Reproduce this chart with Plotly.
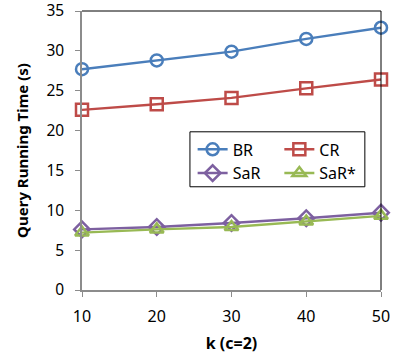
import plotly.graph_objects as go

# data
k_values = [10, 20, 30, 40, 50]
br_times = [27.7, 28.8, 29.9, 31.5, 32.9]
cr_times = [22.6, 23.3, 24.1, 25.3, 26.4]
sar_times = [7.6, 7.9, 8.4, 9.0, 9.7]
sar_star_times = [7.2, 7.6, 7.9, 8.6, 9.3]

font_name = "Noto Sans"

series = [
    ("BR", br_times, "#4a7ebb", "circle-open", "legend"),
    ("CR", cr_times, "#be4b48", "square-open", "legend2"),
    ("SaR", sar_times, "#7d60a0", "diamond-open", "legend"),
    ("SaR*", sar_star_times, "#98b954", "triangle-up-open", "legend2"),
]

fig = go.Figure()
for name, vals, color, symbol, leg in series:
    fig.add_trace(go.Scatter(
        x=k_values, y=vals, name=name, mode="lines+markers",
        line=dict(color=color, width=2.4),
        marker=dict(symbol=symbol, size=12, color=color, line=dict(width=2.5, color=color)),
        legend=leg, cliponaxis=False,
    ))

leg_style = dict(bgcolor="rgba(0,0,0,0)", borderwidth=0,
                 font=dict(family=font_name, size=16, color="black"),
                 itemwidth=30, tracegroupgap=0, yanchor="top", xanchor="left")

fig.update_layout(
    width=399, height=363,
    margin=dict(l=82, r=18, t=11, b=73, autoexpand=False),
    paper_bgcolor="white", plot_bgcolor="white",
    font=dict(family=font_name, size=16, color="black"),
    showlegend=True,
    legend=dict(x=0.37, y=0.565, **leg_style),
    legend2=dict(x=0.66, y=0.565, **leg_style),
    xaxis=dict(
        range=[10, 50], tickvals=k_values, showgrid=False, zeroline=False,
        showline=True, linecolor="#8c8c8c", linewidth=1.5, mirror=False,
        ticks="outside", ticklen=5, tickcolor="#8c8c8c", automargin=False,
        ticklabeloverflow="allow", ticklabelstandoff=6,
        title=dict(text="<b>k (c=2)</b>", font=dict(size=16), standoff=12),
    ),
    yaxis=dict(
        range=[0, 35], dtick=5, showgrid=False, zeroline=False,
        showline=True, linecolor="#8c8c8c", linewidth=1.5,
        ticks="outside", ticklen=5, tickcolor="#8c8c8c", automargin=False,
        ticklabeloverflow="allow", ticklabelstandoff=8,
        tickfont=dict(size=15.5),
        title=dict(text="<b>Query Running Time (s)</b>", font=dict(size=15), standoff=14),
    ),
    shapes=[
        # top and right frame of the plot area
        dict(type="line", xref="paper", yref="paper", x0=0, x1=1, y0=1, y1=1,
             line=dict(color="black", width=1)),
        dict(type="line", xref="paper", yref="paper", x0=1, x1=1, y0=0, y1=1,
             line=dict(color="black", width=1)),
        # legend box
        dict(type="rect", xref="paper", yref="paper", x0=0.361, x1=0.946, y0=0.37, y1=0.567,
             line=dict(color="black", width=1), fillcolor="white", layer="below"),
    ],
)

# page body has a default 8px margin; drop it so the figure sits at the window corner
fig.write_html("out.html", config={"displayModeBar": False},
               post_script="document.body.style.margin='0px';")
